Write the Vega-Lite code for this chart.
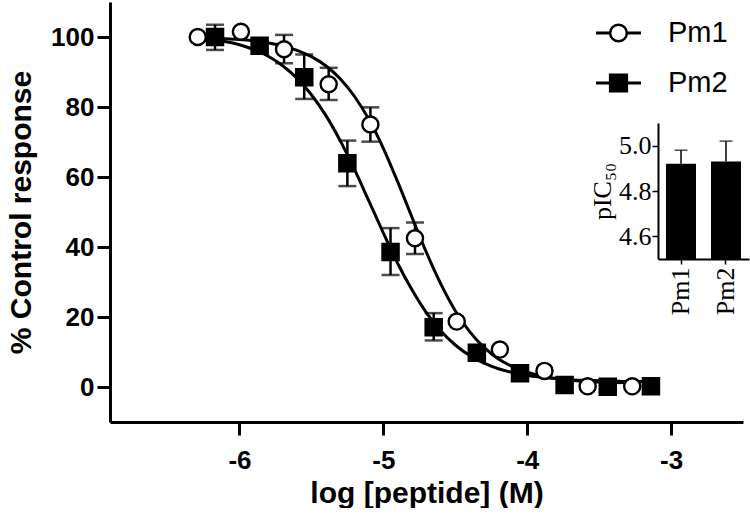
{
  "$schema": "https://vega.github.io/schema/vega-lite/v6.json",
  "padding": {"left": 6, "top": 2, "right": 0, "bottom": 0},
  "background": "white",
  "config": {
    "view": {"stroke": null},
    "font": "Liberation Sans",
    "axis": {"grid": false, "domainColor": "black", "tickColor": "black", "labelColor": "black", "titleColor": "black"}
  },
  "datasets": {
    "curves": [
      {"series": "Pm1", "x": -6.29, "y": 99.8}, {"series": "Pm1", "x": -6.2, "y": 99.7}, {"series": "Pm1", "x": -6.1, "y": 99.5},
      {"series": "Pm1", "x": -6.0, "y": 99.3}, {"series": "Pm1", "x": -5.9, "y": 98.9}, {"series": "Pm1", "x": -5.8, "y": 98.3},
      {"series": "Pm1", "x": -5.7, "y": 97.5}, {"series": "Pm1", "x": -5.6, "y": 96.2}, {"series": "Pm1", "x": -5.5, "y": 94.4},
      {"series": "Pm1", "x": -5.4, "y": 91.8}, {"series": "Pm1", "x": -5.3, "y": 88.1}, {"series": "Pm1", "x": -5.2, "y": 83.0},
      {"series": "Pm1", "x": -5.1, "y": 76.4}, {"series": "Pm1", "x": -5.0, "y": 68.2}, {"series": "Pm1", "x": -4.9, "y": 58.6},
      {"series": "Pm1", "x": -4.8, "y": 48.4}, {"series": "Pm1", "x": -4.7, "y": 38.4}, {"series": "Pm1", "x": -4.6, "y": 29.4},
      {"series": "Pm1", "x": -4.5, "y": 21.8}, {"series": "Pm1", "x": -4.4, "y": 15.8}, {"series": "Pm1", "x": -4.3, "y": 11.3},
      {"series": "Pm1", "x": -4.2, "y": 8.0}, {"series": "Pm1", "x": -4.1, "y": 5.8}, {"series": "Pm1", "x": -4.0, "y": 4.2},
      {"series": "Pm1", "x": -3.9, "y": 3.1}, {"series": "Pm1", "x": -3.8, "y": 2.4}, {"series": "Pm1", "x": -3.7, "y": 1.9},
      {"series": "Pm1", "x": -3.6, "y": 1.6}, {"series": "Pm1", "x": -3.5, "y": 1.4}, {"series": "Pm1", "x": -3.4, "y": 1.3},
      {"series": "Pm1", "x": -3.27, "y": 1.2},
      {"series": "Pm2", "x": -6.17, "y": 99.2}, {"series": "Pm2", "x": -6.1, "y": 98.7}, {"series": "Pm2", "x": -6.0, "y": 97.8},
      {"series": "Pm2", "x": -5.9, "y": 96.4}, {"series": "Pm2", "x": -5.8, "y": 94.5}, {"series": "Pm2", "x": -5.7, "y": 91.8},
      {"series": "Pm2", "x": -5.6, "y": 88.2}, {"series": "Pm2", "x": -5.5, "y": 83.5}, {"series": "Pm2", "x": -5.4, "y": 77.6},
      {"series": "Pm2", "x": -5.3, "y": 70.4}, {"series": "Pm2", "x": -5.2, "y": 62.1}, {"series": "Pm2", "x": -5.1, "y": 53.1},
      {"series": "Pm2", "x": -5.0, "y": 44.0}, {"series": "Pm2", "x": -4.9, "y": 35.3}, {"series": "Pm2", "x": -4.8, "y": 27.7},
      {"series": "Pm2", "x": -4.7, "y": 21.2}, {"series": "Pm2", "x": -4.6, "y": 16.0}, {"series": "Pm2", "x": -4.5, "y": 12.0},
      {"series": "Pm2", "x": -4.4, "y": 9.0}, {"series": "Pm2", "x": -4.3, "y": 6.8}, {"series": "Pm2", "x": -4.2, "y": 5.2},
      {"series": "Pm2", "x": -4.1, "y": 4.1}, {"series": "Pm2", "x": -4.0, "y": 3.3}, {"series": "Pm2", "x": -3.9, "y": 2.8},
      {"series": "Pm2", "x": -3.8, "y": 2.4}, {"series": "Pm2", "x": -3.7, "y": 2.1}, {"series": "Pm2", "x": -3.6, "y": 1.9},
      {"series": "Pm2", "x": -3.5, "y": 1.8}, {"series": "Pm2", "x": -3.4, "y": 1.7}, {"series": "Pm2", "x": -3.3, "y": 1.6},
      {"series": "Pm2", "x": -3.14, "y": 1.6}
    ],
    "pts": [
      {"series": "Pm1", "x": -6.29, "y": 100}, {"series": "Pm1", "x": -5.99, "y": 101.5}, {"series": "Pm1", "x": -5.69, "y": 96.5},
      {"series": "Pm1", "x": -5.38, "y": 86.5}, {"series": "Pm1", "x": -5.09, "y": 75}, {"series": "Pm1", "x": -4.78, "y": 42.5},
      {"series": "Pm1", "x": -4.49, "y": 18.7}, {"series": "Pm1", "x": -4.19, "y": 10.7}, {"series": "Pm1", "x": -3.88, "y": 4.6},
      {"series": "Pm1", "x": -3.58, "y": 0.2}, {"series": "Pm1", "x": -3.27, "y": 0.2},
      {"series": "Pm2", "x": -6.17, "y": 100}, {"series": "Pm2", "x": -5.86, "y": 97.5}, {"series": "Pm2", "x": -5.55, "y": 88.5},
      {"series": "Pm2", "x": -5.25, "y": 63.9}, {"series": "Pm2", "x": -4.95, "y": 38.6}, {"series": "Pm2", "x": -4.65, "y": 17.1},
      {"series": "Pm2", "x": -4.35, "y": 9.8}, {"series": "Pm2", "x": -4.05, "y": 3.9}, {"series": "Pm2", "x": -3.74, "y": 0.6},
      {"series": "Pm2", "x": -3.44, "y": 0.1}, {"series": "Pm2", "x": -3.14, "y": 0.2}
    ],
    "errs": [
      {"series": "Pm1", "x": -5.69, "lo": 92.5, "hi": 100.6}, {"series": "Pm1", "x": -5.38, "lo": 82, "hi": 91.2},
      {"series": "Pm1", "x": -5.09, "lo": 70.1, "hi": 79.9}, {"series": "Pm1", "x": -4.78, "lo": 38, "hi": 47},
      {"series": "Pm2", "x": -6.17, "lo": 96.3, "hi": 103.5}, {"series": "Pm2", "x": -5.55, "lo": 82.3, "hi": 95},
      {"series": "Pm2", "x": -5.25, "lo": 57.4, "hi": 70.4}, {"series": "Pm2", "x": -4.95, "lo": 32, "hi": 45.4},
      {"series": "Pm2", "x": -4.65, "lo": 13.3, "hi": 21.1}
    ],
    "legend": [
      {"series": "Pm1"},
      {"series": "Pm2"}
    ],
    "inset": [
      {"peptide": "Pm1", "pic50": 4.92, "hi": 4.98},
      {"peptide": "Pm2", "pic50": 4.93, "hi": 5.02}
    ]
  },
  "bounds": "flush",
  "align": "none",
  "columns": 2,
  "spacing": -147,
  "concat": [
    {
      "width": 633,
      "height": 420,
      "layer": [
        {
          "data": {"name": "errs"},
          "mark": {"type": "rule", "color": "black", "strokeWidth": 2.5},
          "encoding": {
            "x": {"field": "x", "type": "quantitative", "title": "log [peptide] (M)"},
            "y": {"field": "lo", "type": "quantitative", "title": "% Control response"},
            "y2": {"field": "hi"}
          }
        },
        {
          "data": {"name": "errs"},
          "mark": {"type": "tick", "orient": "horizontal", "color": "black", "thickness": 2.5, "size": 18},
          "encoding": {
            "x": {"field": "x", "type": "quantitative", "title": "log [peptide] (M)"},
            "y": {"field": "lo", "type": "quantitative", "title": "% Control response"}
          }
        },
        {
          "data": {"name": "errs"},
          "mark": {"type": "tick", "orient": "horizontal", "color": "black", "thickness": 2.5, "size": 18},
          "encoding": {
            "x": {"field": "x", "type": "quantitative", "title": "log [peptide] (M)"},
            "y": {"field": "hi", "type": "quantitative", "title": "% Control response"}
          }
        },
        {
          "data": {"name": "curves"},
          "mark": {"type": "line", "color": "black", "strokeWidth": 3, "interpolate": "monotone"},
          "encoding": {
            "x": {
              "field": "x", "type": "quantitative", "title": "log [peptide] (M)",
              "scale": {"domain": [-6.9, -2.5], "nice": false, "zero": false},
              "axis": {
                "values": [-6, -5, -4, -3], "format": "d", "labelExpr": "replace(datum.label, '\u2212', '-')",
                "domainWidth": 3, "tickWidth": 3, "tickSize": 13, "labelPadding": 12,
                "labelFont": "Liberation Sans", "labelFontWeight": "bold", "labelFontSize": 26,
                "titleFont": "Liberation Sans", "titleFontWeight": "bold", "titleFontSize": 30, "titlePadding": 5
              }
            },
            "y": {
              "field": "y", "type": "quantitative", "title": "% Control response",
              "scale": {"domain": [-10, 110], "nice": false, "zero": false},
              "axis": {
                "values": [0, 20, 40, 60, 80, 100],
                "domainWidth": 3, "tickWidth": 3, "tickSize": 13, "labelPadding": 3,
                "labelFont": "Liberation Sans", "labelFontWeight": "bold", "labelFontSize": 26,
                "titleFont": "Liberation Sans", "titleFontWeight": "bold", "titleFontSize": 30, "titlePadding": 14
              }
            },
            "detail": {"field": "series"}
          }
        },
        {
          "data": {"name": "pts"},
          "mark": {"type": "point", "filled": true, "stroke": "black", "strokeWidth": 2.4, "opacity": 1, "size": 260},
          "encoding": {
            "x": {"field": "x", "type": "quantitative", "title": "log [peptide] (M)"},
            "y": {"field": "y", "type": "quantitative", "title": "% Control response"},
            "shape": {
              "field": "series", "type": "nominal",
              "scale": {"domain": ["Pm1", "Pm2"], "range": ["circle", "square"]},
              "legend": null
            },
            "fill": {
              "condition": {"test": "datum.series === 'Pm1'", "value": "white"},
              "value": "black"
            }
          }
        }
      ]
    },
    {
      "bounds": "flush",
      "center": true,
      "spacing": 9,
      "vconcat": [
        {
          "width": 215, "height": 112,
          "data": {"name": "legend"},
          "encoding": {
            "y": {
              "field": "series", "type": "nominal",
              "scale": {"domain": ["Pm1", "Pm2"], "paddingInner": 0, "paddingOuter": 0.12},
              "axis": null
            }
          },
          "layer": [
            {
              "mark": {"type": "rule", "color": "black", "strokeWidth": 3},
              "encoding": {
                "x": {"datum": 0, "type": "quantitative", "scale": {"domain": [0, 215], "nice": false, "zero": false}, "axis": null},
                "x2": {"datum": 45}
              }
            },
            {
              "mark": {"type": "point", "filled": true, "stroke": "black", "strokeWidth": 2.5, "opacity": 1, "size": 280},
              "encoding": {
                "x": {"datum": 22.5, "type": "quantitative"},
                "shape": {
                  "field": "series", "type": "nominal",
                  "scale": {"domain": ["Pm1", "Pm2"], "range": ["circle", "square"]},
                  "legend": null
                },
                "fill": {
                  "condition": {"test": "datum.series === 'Pm1'", "value": "white"},
                  "value": "black"
                }
              }
            },
            {
              "mark": {"type": "text", "align": "left", "baseline": "middle", "font": "Liberation Sans", "fontSize": 29, "color": "black"},
              "encoding": {
                "x": {"datum": 72, "type": "quantitative"},
                "text": {"field": "series", "type": "nominal"}
              }
            }
          ]
        },
        {
          "width": 91, "height": 136,
          "data": {"name": "inset"},
          "encoding": {
            "x": {
              "field": "peptide", "type": "nominal", "title": null,
              "scale": {"paddingInner": 0.333, "paddingOuter": 0.178},
              "axis": {
                "labelAngle": 270, "domainWidth": 2, "tickWidth": 1.5, "tickSize": 5, "labelPadding": 3,
                "labelFont": "Liberation Serif", "labelFontSize": 26, "labelFontWeight": "normal"
              }
            }
          },
          "layer": [
            {
              "mark": {"type": "bar", "color": "black"},
              "encoding": {
                "y": {
                  "field": "pic50", "type": "quantitative", "title": "pIC\u2085\u2080",
                  "scale": {"domain": [4.5, 5.1], "nice": false, "zero": false},
                  "axis": {
                    "values": [4.6, 4.8, 5.0], "format": ".1f",
                    "domainWidth": 2, "tickWidth": 1.5, "tickSize": 6, "labelPadding": 1,
                    "labelFont": "Liberation Serif", "labelFontSize": 26,
                    "titleFont": "Liberation Serif", "titleFontSize": 26, "titleFontWeight": "normal", "titlePadding": 3
                  }
                },
                "y2": {"datum": 4.5}
              }
            },
            {
              "mark": {"type": "rule", "color": "black", "strokeWidth": 1.5},
              "encoding": {
                "y": {"field": "pic50", "type": "quantitative", "title": "pIC\u2085\u2080"},
                "y2": {"field": "hi"}
              }
            },
            {
              "mark": {"type": "tick", "orient": "horizontal", "color": "black", "thickness": 1.5, "size": 13},
              "encoding": {
                "y": {"field": "hi", "type": "quantitative", "title": "pIC\u2085\u2080"}
              }
            }
          ]
        }
      ]
    }
  ]
}
